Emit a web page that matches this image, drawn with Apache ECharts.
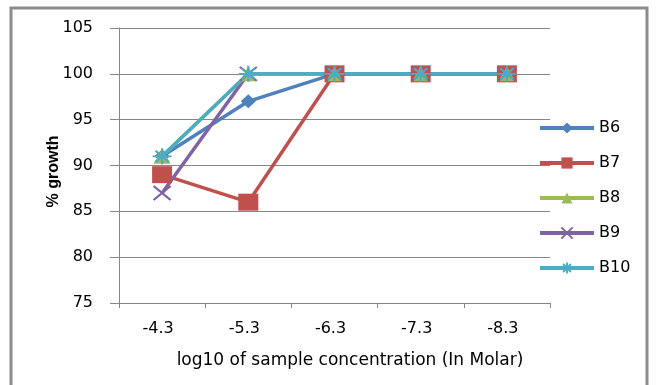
<!DOCTYPE html>
<html>
<head>
<meta charset="utf-8">
<script src="https://cdn.jsdelivr.net/npm/echarts@6/dist/echarts.min.js"></script>
<style>
html,body{margin:0;padding:0;background:#fff;}
#chart{width:658px;height:385px;}
</style>
</head>
<body>
<div id="chart"></div>
<script>
// Growth (%) at each log10 sample concentration
const categories = ['-4.3', '-5.3', '-6.3', '-7.3', '-8.3'];
const seriesNames = ['B6', 'B7', 'B8', 'B9', 'B10'];
const b6 = [91, 97, 100, 100, 100];
const b7 = [89, 86, 100, 100, 100];
const b8 = [91, 100, 100, 100, 100];
const b9 = [87, 100, 100, 100, 100];
const b10 = [91, 100, 100, 100, 100];
const yTicks = { min: 75, max: 105, step: 5 };

const colors = ['#4F81BD', '#C0504D', '#9BBB59', '#8064A2', '#4BACC6'];
const symbols = [
  'diamond',
  'rect',
  'triangle',
  'path://M0,0L10,10M10,0L0,10',
  'path://M5,0L5,10M0,5L10,5M1.5,1.5L8.5,8.5M8.5,1.5L1.5,8.5'
];
const symbolSizes = [[15, 14], [20, 17], [17, 15], [17, 14], [19, 16]];
const values = [b6, b7, b8, b9, b10];

const chart = echarts.init(document.getElementById('chart'));

const series = seriesNames.map((name, i) => {
  const stroked = i >= 3;
  return {
    name: name,
    type: 'line',
    data: values[i],
    symbol: symbols[i],
    symbolSize: symbolSizes[i],
    showAllSymbol: true,
    lineStyle: { color: colors[i], width: 3.5 },
    itemStyle: stroked
      ? { color: colors[i], borderColor: colors[i], borderWidth: 2 }
      : { color: colors[i], borderColor: colors[i], borderWidth: 0 },
    emphasis: { disabled: true },
    animation: false
  };
});

chart.setOption({
  animation: false,
  color: colors,
  graphic: [{
    type: 'rect',
    shape: { x: 11, y: 8, width: 636, height: 400 },
    style: { fill: 'none', stroke: '#8c8c8c', lineWidth: 3 },
    silent: true,
    z: -1
  }],
  grid: { left: 119, right: 108, top: 28, bottom: 82 },
  legend: {
    orient: 'vertical',
    left: 538,
    top: 120,
    padding: 0,
    itemWidth: 54,
    itemHeight: 14,
    itemGap: 19,
    lineStyle: { width: 4 },
    textStyle: { fontFamily: 'DejaVu Sans', fontSize: 16, lineHeight: 16, color: '#000' },
    data: seriesNames
  },
  xAxis: {
    type: 'category',
    data: categories,
    boundaryGap: true,
    axisLine: { lineStyle: { color: '#868686', width: 1 } },
    axisTick: { show: true, length: 5, lineStyle: { color: '#868686' } },
    axisLabel: { fontFamily: 'DejaVu Sans', fontSize: 16, color: '#000', margin: 18, padding: [0, 8, 0, 0] },
    name: 'log10 of sample concentration (In Molar)',
    nameLocation: 'middle',
    nameGap: 49,
    nameMoveOverlap: false,
    nameTextStyle: { fontFamily: 'DejaVu Sans', fontSize: 17, color: '#000', padding: [0, 0, 0, 31] }
  },
  yAxis: {
    type: 'value',
    min: yTicks.min,
    max: yTicks.max,
    interval: yTicks.step,
    axisLine: { show: true, lineStyle: { color: '#868686', width: 1 } },
    axisTick: { show: true, length: 9, lineStyle: { color: '#868686' } },
    splitLine: { show: true, lineStyle: { color: '#868686', width: 1 } },
    axisLabel: { fontFamily: 'DejaVu Sans', fontSize: 16, color: '#000', margin: 26 },
    name: '% growth',
    nameLocation: 'middle',
    nameRotate: 90,
    nameGap: 57,
    nameMoveOverlap: false,
    nameTextStyle: { fontFamily: 'Liberation Sans', fontSize: 16, fontWeight: 'bold', color: '#000', padding: [0, 12, 0, 0] }
  },
  series: series
});
</script>
</body>
</html>
